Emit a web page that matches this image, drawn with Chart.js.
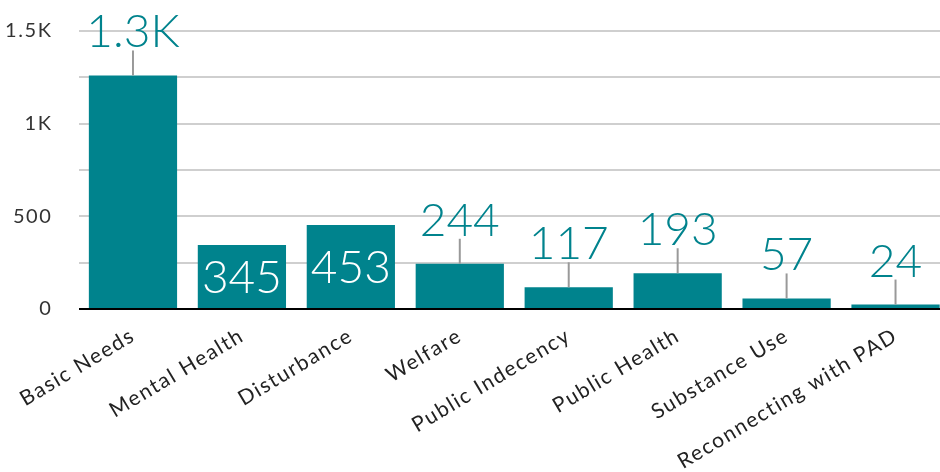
<!DOCTYPE html>
<html>
<head>
<meta charset="utf-8">
<script src="https://cdn.jsdelivr.net/npm/chart.js@4"></script>
<style>
  html, body { margin: 0; padding: 0; background: #fff; overflow: hidden; }
  #wrap { width: 950px; height: 472px; }
</style>
</head>
<body>
<div id="wrap"><canvas id="chart"></canvas></div>
<script>
const categories = [
  "Basic Needs", "Mental Health", "Disturbance", "Welfare",
  "Public Indecency", "Public Health", "Substance Use", "Reconnecting with PAD"
]
const counts = [1260, 345, 453, 244, 117, 193, 57, 24]
const valueLabels = ["1.3K", "345", "453", "244", "117", "193", "57", "24"]
const yTickLabels = { 0: "0", 500: "500", 1000: "1K", 1500: "1.5K" }

// labels drawn inside the bar instead of above it
const insideLabels = ["Mental Health", "Disturbance"]

const TEAL = "#00838d"
const FONT = "Lato, 'Open Sans', sans-serif"

// the original font is wider, so open the letters up a bit
const spacing = {
  id: "spacing",
  beforeLayout(chart) { chart.ctx.letterSpacing = "1.6px" },
  beforeDraw(chart) { chart.ctx.letterSpacing = "1.6px" }
}

const barLabels = {
  id: "barLabels",
  afterDatasetsDraw(chart) {
    const { ctx } = chart
    const meta = chart.getDatasetMeta(0)
    ctx.save()
    ctx.letterSpacing = "0px"
    ctx.textAlign = "center"
    ctx.font = `300 46px ${FONT}`
    meta.data.forEach((bar, i) => {
      const text = valueLabels[i]
      if (insideLabels.includes(categories[i])) {
        ctx.fillStyle = "#fff"
        ctx.textBaseline = "middle"
        ctx.fillText(text, bar.x, (bar.y + bar.base) / 2 + 2)
      } else {
        const top = bar.y - 25
        ctx.strokeStyle = "#999"
        ctx.lineWidth = 2
        ctx.beginPath()
        ctx.moveTo(bar.x, bar.y)
        ctx.lineTo(bar.x, top)
        ctx.stroke()
        ctx.fillStyle = TEAL
        ctx.textBaseline = "alphabetic"
        ctx.fillText(text, bar.x, top - 3)
      }
    })
    ctx.restore()
  }
}

new Chart(document.getElementById("chart"), {
  type: "bar",
  data: {
    labels: categories,
    datasets: [{
      data: counts,
      backgroundColor: TEAL,
      barPercentage: 0.81,
      categoryPercentage: 1
    }]
  },
  options: {
    responsive: true,
    maintainAspectRatio: false,
    animation: false,
    layout: { padding: { top: 31, right: 0, left: 0, bottom: 0 } },
    plugins: { legend: { display: false }, tooltip: { enabled: false } },
    scales: {
      x: {
        afterFit(scale) { scale.height = 163 },
        grid: { display: false },
        border: { display: false },
        ticks: {
          color: "#222",
          font: { family: FONT, size: 21 },
          minRotation: 31,
          maxRotation: 31,
          autoSkip: false,
          padding: 6
        }
      },
      y: {
        min: 0,
        max: 1500,
        afterFit(scale) {
          scale.width = 78.5
          scale.paddingTop = 0
        },
        border: { display: false },
        grid: {
          drawTicks: false,
          lineWidth: 2,
          color: (c) => c.tick && c.tick.value === 0 ? "#000" : "#cfcfcf"
        },
        ticks: {
          stepSize: 250,
          padding: 26,
          color: "#333",
          font: { family: FONT, size: 20 },
          callback: (v) => yTickLabels[v] ?? ""
        }
      }
    }
  },
  plugins: [spacing, barLabels]
})
</script>
</body>
</html>
